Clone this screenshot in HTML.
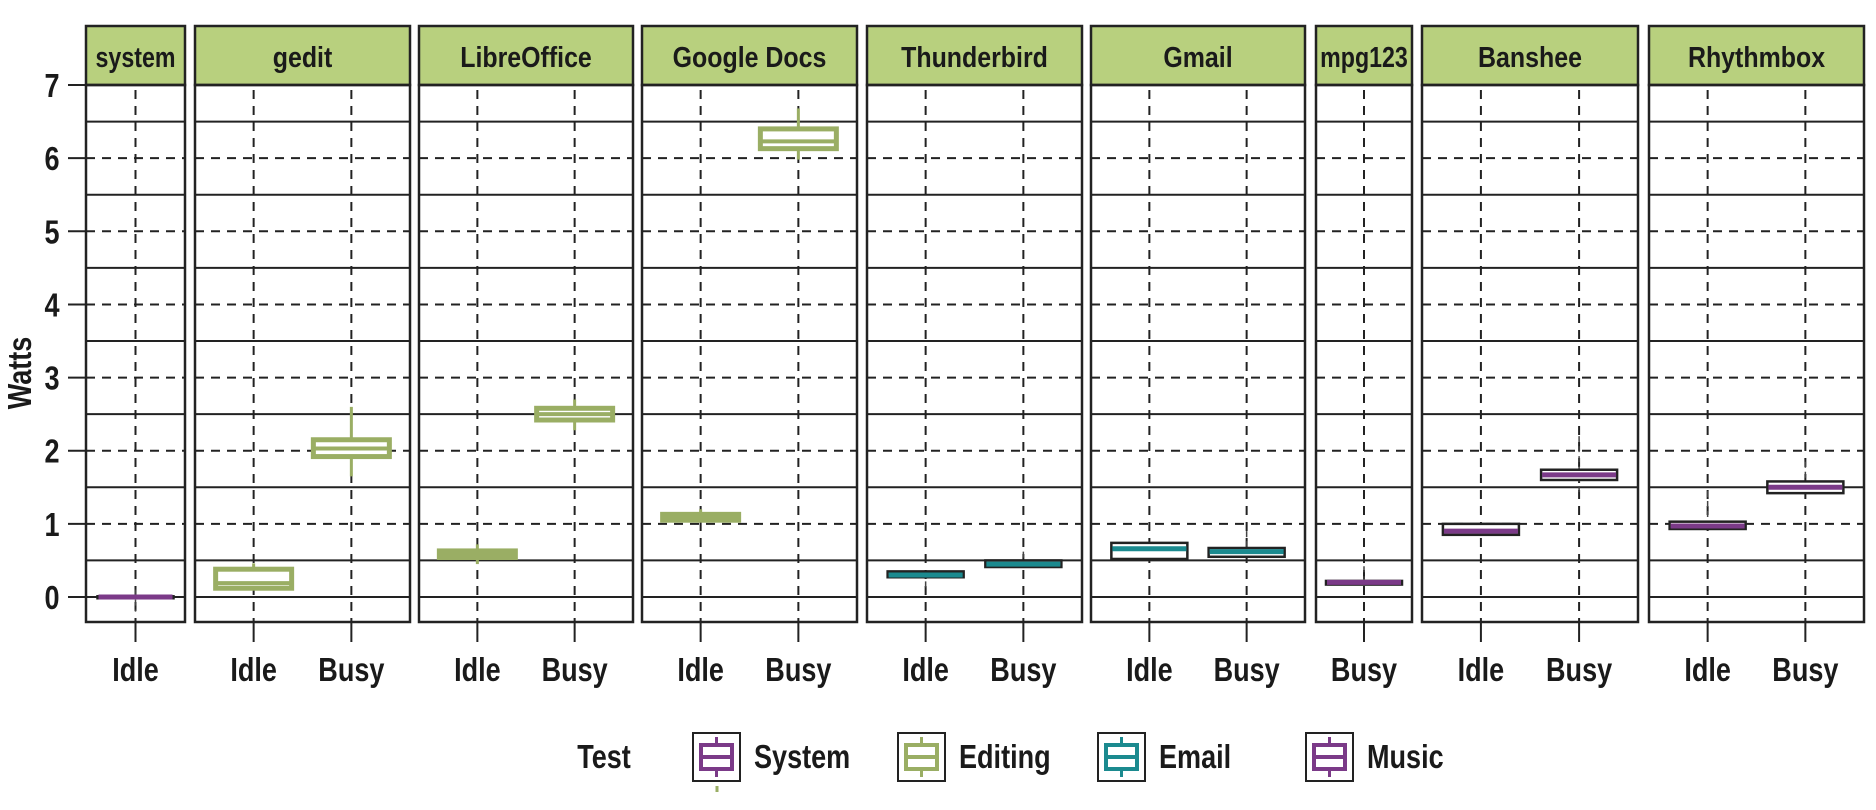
<!DOCTYPE html>
<html><head><meta charset="utf-8"><style>
html,body{margin:0;padding:0;background:#fff;}
svg{display:block;font-family:"Liberation Sans Narrow","Liberation Sans",sans-serif;font-weight:bold;}
</style></head><body>
<svg id="s" width="1876" height="810" viewBox="0 0 1876 810" xmlns="http://www.w3.org/2000/svg"></svg>
<script>
(function(){
const S=document.getElementById('s');let h='';
const Y=v=>597-v*73.14;
const pTop=85,pBot=622;
const G='#9aae64',T='#1b8a8f',P='#7b3a88';
const TX=(x,y,s,txt,anchor,sc)=>`<text transform="translate(${x},${y}) scale(${sc||0.82},1)" font-size="${s}" text-anchor="${anchor||'middle'}" fill="#1a1a1a">${txt}</text>`;
const panels=[
 ['system',86,185,['Idle']],
 ['gedit',195,410,['Idle','Busy']],
 ['LibreOffice',419,633,['Idle','Busy']],
 ['Google Docs',642,857,['Idle','Busy']],
 ['Thunderbird',867,1082,['Idle','Busy']],
 ['Gmail',1091,1305,['Idle','Busy']],
 ['mpg123',1316,1412,['Busy']],
 ['Banshee',1422,1638,['Idle','Busy']],
 ['Rhythmbox',1649,1864,['Idle','Busy']]
];
const boxes=[
 [[-0.01,0,0.01,-0.2,0.1,'s']],
 [[0.12,0.19,0.38,0.12,0.46,'e'],[1.92,2.03,2.15,1.65,2.6,'e']],
 [[0.54,0.58,0.63,0.45,0.72,'e'],[2.42,2.5,2.58,2.28,2.7,'e']],
 [[1.05,1.09,1.13,1.05,1.2,'e'],[6.13,6.23,6.4,5.98,6.68,'e']],
 [[0.27,0.3,0.35,0.1,0.35,'t'],[0.41,0.45,0.5,0.41,0.62,'t']],
 [[0.52,0.66,0.74,0.52,0.74,'t'],[0.55,0.62,0.67,0.55,0.9,'t']],
 [[0.17,0.2,0.22,0.17,0.42,'p']],
 [[0.85,0.9,1.0,0.85,1.0,'p'],[1.6,1.67,1.74,1.4,2.2,'p']],
 [[0.93,0.97,1.03,0.93,1.45,'p'],[1.42,1.5,1.58,1.42,1.85,'p']]
];
panels.forEach((p,i)=>{
 const name=p[0],l=p[1],r=p[2],cats=p[3];const w=r-l;
 const xs=cats.length==1?[(l+r)/2]:[l+w*0.6/2.2,l+w*1.6/2.2];
 h+=`<rect x="${l}" y="26" width="${w}" height="59" fill="#b8d07e" stroke="#222" stroke-width="2.5"/>`;
 h+=TX((l+r)/2,67,29,name,'middle',w<110?0.8:0.86);
 [0.5,1.5,2.5,3.5,4.5,5.5,6.5,0].forEach(v=>{h+=`<line x1="${l}" x2="${r}" y1="${Y(v)}" y2="${Y(v)}" stroke="#222" stroke-width="2"/>`;});
 [1,2,3,4,5,6].forEach(v=>{h+=`<line x1="${l}" x2="${r}" y1="${Y(v)}" y2="${Y(v)}" stroke="#222" stroke-width="2" stroke-dasharray="9,7"/>`;});
 xs.forEach(x=>{h+=`<line x1="${x}" x2="${x}" y1="${pTop+5}" y2="${pBot}" stroke="#222" stroke-width="2" stroke-dasharray="9,7"/>`;});
 boxes[i].forEach((b,j)=>{
  const x=xs[j],hw=38;const lo=b[0],md=b[1],hi=b[2],wl=b[3],wh=b[4],t=b[5];
  if(t=='e'){
   h+=`<line x1="${x}" x2="${x}" y1="${Y(wh)}" y2="${Y(wl)}" stroke="${G}" stroke-width="3"/>`;
   h+=`<rect x="${x-hw}" y="${Y(hi)}" width="${2*hw}" height="${Math.max(Y(lo)-Y(hi),1)}" fill="#fff" stroke="${G}" stroke-width="5"/>`;
   h+=`<line x1="${x-hw}" x2="${x+hw}" y1="${Y(md)}" y2="${Y(md)}" stroke="${G}" stroke-width="4"/>`;
  } else {
   const c=t=='t'?T:P;
   h+=`<line x1="${x}" x2="${x}" y1="${Y(wh)}" y2="${Y(wl)}" stroke="#444" stroke-width="1.5" stroke-dasharray="6,4"/>`;
   h+=`<rect x="${x-hw}" y="${Y(hi)}" width="${2*hw}" height="${Math.max(Y(lo)-Y(hi),2)}" fill="#fff" stroke="#222" stroke-width="2.5"/>`;
   h+=`<line x1="${x-hw+1}" x2="${x+hw-1}" y1="${Y(md)}" y2="${Y(md)}" stroke="${c}" stroke-width="5"/>`;
  }
 });
 h+=`<rect x="${l}" y="${pTop}" width="${w}" height="${pBot-pTop}" fill="none" stroke="#222" stroke-width="2.5"/>`;
 xs.forEach((x,j)=>{
  h+=`<line x1="${x}" x2="${x}" y1="${pBot}" y2="${pBot+20}" stroke="#222" stroke-width="2"/>`;
  h+=TX(x,681,33,cats[j]);
 });
});
for(let v=0;v<=7;v++){
 h+=`<line x1="68" x2="86" y1="${Y(v)}" y2="${Y(v)}" stroke="#222" stroke-width="2"/>`;
 h+=TX(52,Y(v)+12,33,v);
}
h+=`<text transform="translate(31,373) rotate(-90) scale(0.82,1)" font-size="33" text-anchor="middle" fill="#1a1a1a">Watts</text>`;
h+=TX(604,768,33,'Test');
const keys=[[693,P,'System'],[898,G,'Editing'],[1098,T,'Email'],[1306,P,'Music']];
keys.forEach(k=>{
 const x=k[0],c=k[1],lab=k[2],w=47;
 h+=`<rect x="${x}" y="733" width="${w}" height="48" fill="#fff" stroke="#222" stroke-width="2"/>`;
 const cx=x+w/2;
 h+=`<line x1="${cx}" x2="${cx}" y1="737" y2="777" stroke="${c}" stroke-width="3"/>`;
 h+=`<rect x="${x+8}" y="745" width="${w-16}" height="24" fill="#fff" stroke="${c}" stroke-width="4"/>`;
 h+=`<line x1="${x+8}" x2="${x+w-8}" y1="757" y2="757" stroke="${c}" stroke-width="4"/>`;
 h+=TX(x+w+14,768,33,lab,'start');
});
h+=`<line x1="717" x2="717" y1="786" y2="792" stroke="${G}" stroke-width="3"/>`;
S.innerHTML=h;
})();
</script>
</body></html>
